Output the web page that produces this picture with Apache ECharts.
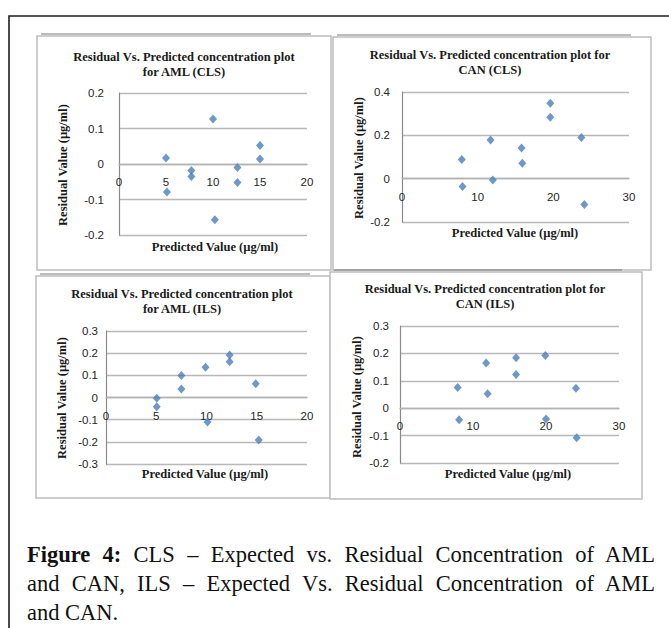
<!DOCTYPE html>
<html>
<head>
<meta charset="utf-8">
<script src="https://cdn.jsdelivr.net/npm/echarts@6/dist/echarts.min.js"></script>
<style>
  html, body { margin: 0; padding: 0; background: #fff; }
  #chart { position: absolute; left: 0; top: 0; width: 669px; height: 628px; }
  #caption { position: absolute; left: 27px; top: 540px; width: 628px;
    font-family: "Liberation Serif", "Times New Roman", serif; font-size: 22.5px; line-height: 29px; color: #111; }
  #caption .j { text-align: justify; text-align-last: justify; }
</style>
</head>
<body>
<div id="chart"></div>
<div id="caption">
  <div class="j"><b>Figure 4:</b> CLS – Expected vs. Residual Concentration of AML</div>
  <div class="j">and CAN, ILS – Expected Vs. Residual Concentration of AML</div>
  <div>and CAN.</div>
</div>
<script>
// ---- Data ----
const titles = [
  'Residual Vs. Predicted concentration plot\nfor AML (CLS)',
  'Residual Vs. Predicted concentration plot for\nCAN (CLS)',
  'Residual Vs. Predicted concentration plot\nfor AML (ILS)',
  'Residual Vs. Predicted concentration plot for\nCAN (ILS)'
];
const xName = 'Predicted Value (µg/ml)';
const yName = 'Residual Value (µg/ml)';

// AML (CLS)
const amlClsX = [5, 5.1, 7.7, 7.7, 10, 10.2, 12.6, 12.6, 15, 15];
const amlClsY = [0.017, -0.079, -0.018, -0.035, 0.127, -0.157, -0.010, -0.052, 0.052, 0.014];
// CAN (CLS)
const canClsX = [7.9, 8.0, 11.7, 12.0, 15.8, 15.9, 19.6, 19.6, 23.7, 24.1];
const canClsY = [0.088, -0.036, 0.179, -0.006, 0.141, 0.071, 0.348, 0.283, 0.190, -0.119];
// AML (ILS)
const amlIlsX = [5.05, 5.05, 7.5, 7.5, 9.9, 10.1, 12.3, 12.3, 14.9, 15.2];
const amlIlsY = [-0.003, -0.042, 0.099, 0.038, 0.137, -0.110, 0.192, 0.161, 0.062, -0.192];
// CAN (ILS)
const canIlsX = [7.9, 8.1, 11.8, 12.0, 15.9, 15.9, 19.9, 20.0, 24.1, 24.2];
const canIlsY = [0.076, -0.042, 0.165, 0.053, 0.184, 0.123, 0.192, -0.039, 0.073, -0.108];

// axis ranges [min, max, interval]
const xRanges = [[0, 20, 5], [0, 30, 10], [0, 20, 5], [0, 30, 10]];
const yRanges = [[-0.2, 0.2, 0.1], [-0.2, 0.4, 0.2], [-0.3, 0.3, 0.1], [-0.2, 0.3, 0.1]];

// ---- Layout ----
const seriesXY = [[amlClsX, amlClsY], [canClsX, canClsY], [amlIlsX, amlIlsY], [canIlsX, canIlsY]];
const grids = [
  { left: 119, top: 93, width: 188, height: 142 },
  { left: 402, top: 92, width: 227, height: 130 },
  { left: 106, top: 331, width: 201, height: 133 },
  { left: 400, top: 326, width: 219, height: 137 }
];
const yLabelMargin = [15, 12, 8, 11];
const boxes = [
  [37, 36, 294, 234], [333, 37, 318, 233], [36, 276, 294, 222], [330, 272, 312, 227]
];
const titlePos = [[184, 49], [490, 47], [182, 286], [485, 281]];
const xNamePos = [[215, 247], [515, 233], [205, 474], [508, 474]];
const yNamePos = [[63, 165], [359, 158], [62, 398], [357, 397]];

const serif = '"Liberation Serif", "Times New Roman", serif';
const graphic = [];
// outer frame
graphic.push({ type: 'polyline', z: -5, shape: { points: [[669, 16], [9, 16], [9, 628]] },
  style: { stroke: '#1e1e1e', lineWidth: 1.6, fill: null } });
boxes.forEach(b => {
  graphic.push({ type: 'rect', z: -4, shape: { x: b[0], y: b[1], width: b[2], height: b[3] },
    style: { fill: '#fff', stroke: '#bdbdbd', lineWidth: 1.5 } });
  graphic.push({ type: 'line', z: -3, shape: { x1: b[0] + 4, y1: b[1] - 2, x2: b[0] + b[2] - 20, y2: b[1] - 2 },
    style: { stroke: '#7a7a7a', lineWidth: 1.2 } });
});
titles.forEach((t, i) => {
  graphic.push({ type: 'text', x: titlePos[i][0], y: titlePos[i][1],
    style: { text: t, align: 'center', verticalAlign: 'top', lineHeight: 15,
      font: 'bold 12.5px ' + serif, fill: '#1a1a1a' } });
  graphic.push({ type: 'text', x: xNamePos[i][0], y: xNamePos[i][1],
    style: { text: xName, align: 'center', verticalAlign: 'middle',
      font: 'bold 12.5px ' + serif, fill: '#1a1a1a' } });
  graphic.push({ type: 'text', x: yNamePos[i][0], y: yNamePos[i][1], rotation: Math.PI / 2,
    style: { text: yName, align: 'center', verticalAlign: 'middle',
      font: 'bold 12.5px ' + serif, fill: '#1a1a1a' } });
});

const labelFont = { fontFamily: '"Liberation Sans", Arial, sans-serif', fontSize: 11.5, color: '#262626' };

const option = {
  animation: false,
  backgroundColor: '#fff',
  graphic: graphic,
  grid: grids.map(g => Object.assign({ outerBoundsMode: 'none', containLabel: false }, g)),
  xAxis: xRanges.map((r, i) => {
    const yr = yRanges[i];
    // place the x axis where y = 0 (Excel "axis crosses at 0")
    const zeroShift = grids[i].height * (0 - yr[0]) / (yr[1] - yr[0]);
    return {
      type: 'value', gridIndex: i, min: r[0], max: r[1], interval: r[2],
      position: 'bottom', offset: -zeroShift,
      axisLine: { show: true, onZero: false, lineStyle: { color: '#b3b3b3', width: 1.3 } },
      axisTick: { show: false },
      splitLine: { show: false },
      axisLabel: Object.assign({ margin: 12 }, labelFont)
    };
  }),
  yAxis: yRanges.map((r, i) => ({
    type: 'value', gridIndex: i, min: r[0], max: r[1], interval: r[2],
    axisLine: { show: true, onZero: false, lineStyle: { color: '#8a8a8a', width: 1.2 } },
    axisTick: { show: false },
    splitLine: { show: true, lineStyle: { color: '#b8b8b8', width: 1.3 } },
    axisLabel: Object.assign({ margin: yLabelMargin[i],
      formatter: v => String(Math.round(v * 10) / 10) }, labelFont)
  })),
  series: seriesXY.map((s, i) => ({
    type: 'scatter', xAxisIndex: i, yAxisIndex: i,
    symbol: 'diamond', symbolSize: [8, 9],
    itemStyle: { color: '#4A7EBB' },
    data: s[0].map((x, k) => [x, s[1][k]])
  }))
};

const chart = echarts.init(document.getElementById('chart'), null, { renderer: 'svg' });
chart.setOption(option);
</script>
</body>
</html>
